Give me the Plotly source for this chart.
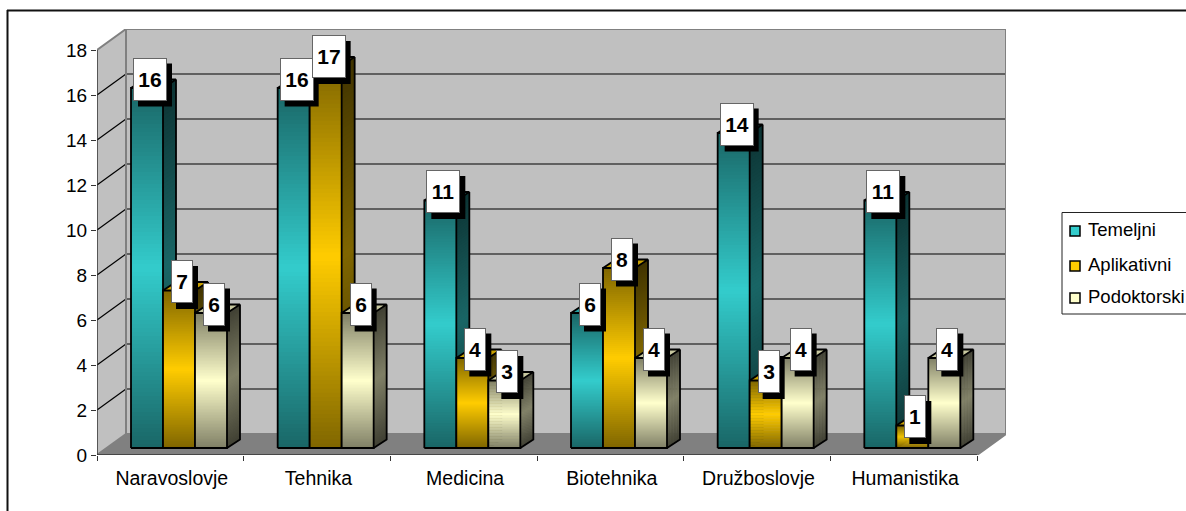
import plotly.graph_objects as go

categories = ["Naravoslovje", "Tehnika", "Medicina", "Biotehnika", "Družboslovje", "Humanistika"]
temeljni = [16, 16, 11, 6, 14, 11]
aplikativni = [7, 17, 4, 8, 3, 1]
podoktorski = [6, 6, 3, 4, 4, 4]
series_names = ["Temeljni", "Aplikativni", "Podoktorski"]
series_values = [temeljni, aplikativni, podoktorski]
series_rgb = [(51, 204, 204), (255, 204, 0), (255, 255, 204)]
y_ticks = list(range(0, 19, 2))

W, H = 1186, 511
L, T, R_PX, B_PX = 97, 29, 1006, 455
PX_X = 146.67
PX_Y = 22.5
DX, DY = 29 / PX_X, 21 / PX_Y            # depth of floor
BAR_W = 32 / PX_X
BAR_X0 = 34 / PX_X                        # first bar left edge inside a category
BASE = 7 / PX_Y                           # front-bottom of the bars above the axis zero
BD, BH = 13 / PX_X, 8.5 / PX_Y            # depth of the bars
N = 90
FONT = "Liberation Sans"


def mix(rgb, f):
    return "rgb(%d,%d,%d)" % tuple(round(c * f) for c in rgb)


def shade(t):
    # dark at both ends of the bar, full colour at mid height
    return 0.5 + 0.5 * (1 - abs(2 * t - 1))


def polys(items):
    xs, ys = [], []
    for p in items:
        xs += [q[0] for q in p] + [p[0][0], None]
        ys += [q[1] for q in p] + [p[0][1], None]
    return xs, ys


fig = go.Figure()


def fill(items, color):
    xs, ys = polys(items)
    fig.add_trace(go.Scatter(x=xs, y=ys, mode="lines", fill="toself", fillcolor=color,
                             line=dict(width=0, simplify=False), showlegend=False, hoverinfo="skip"))


def stroke(items, color, width, closed=True):
    xs, ys = [], []
    for p in items:
        pts = list(p) + ([p[0]] if closed else [])
        xs += [q[0] for q in pts] + [None]
        ys += [q[1] for q in pts] + [None]
    fig.add_trace(go.Scatter(x=xs, y=ys, mode="lines", line=dict(color=color, width=width, simplify=False),
                             showlegend=False, hoverinfo="skip", cliponaxis=False))


# real bars (front faces), painted over by the shaded faces below
n_cat = len(categories)
for s, (name, vals, rgb) in enumerate(zip(series_names, series_values, series_rgb)):
    fig.add_trace(go.Bar(x=[i + BAR_X0 + (s + 0.5) * BAR_W for i in range(n_cat)], y=vals,
                         base=[BASE] * n_cat, width=BAR_W, name=name,
                         marker=dict(color=mix(rgb, 1), line=dict(color="black", width=1)),
                         showlegend=False, hoverinfo="skip"))

# walls and floor
fill([[(DX, DY), (6 + DX, DY), (6 + DX, 18 + DY), (DX, 18 + DY)]], "#C0C0C0")
fill([[(0, 0), (DX, DY), (DX, 18 + DY), (0, 18)]], "#C0C0C0")
fill([[(0, 0), (6, 0), (6 + DX, DY), (DX, DY)]], "#808080")
inner = [v for v in y_ticks if 0 < v < 18]
stroke([[(DX, v + DY), (6 + DX, v + DY)] for v in inner], "#000000", 1.2, closed=False)
stroke([[(0, v), (DX, v + DY)] for v in inner], "#000000", 1.2, closed=False)
stroke([[(0, 18), (DX, 18 + DY), (6 + DX, 18 + DY), (6 + DX, DY), (6, 0)],
        [(DX, DY), (DX, 18 + DY)],
        [(DX, DY), (6 + DX, DY)], [(0, 0), (DX, DY)]], "#808080", 2, closed=False)

# shaded 3D bars, series by series so later ones hide the side of earlier ones
for s, (vals, rgb) in enumerate(zip(series_values, series_rgb)):
    lefts = [i + BAR_X0 + s * BAR_W for i in range(n_cat)]
    for k in range(N):
        lo, hi = k / N, min(1, (k + 1.6) / N)
        f = shade((k + 0.5) / N)
        fill([[(x + BAR_W, BASE + v * lo), (x + BAR_W + BD, BASE + BH + v * lo),
               (x + BAR_W + BD, BASE + BH + v * hi), (x + BAR_W, BASE + v * hi)]
              for x, v in zip(lefts, vals)], mix(rgb, f * 0.5))
    for k in range(N):
        lo, hi = k / N, min(1, (k + 1.6) / N)
        f = shade((k + 0.5) / N)
        fill([[(x, BASE + v * lo), (x + BAR_W, BASE + v * lo),
               (x + BAR_W, BASE + v * hi), (x, BASE + v * hi)]
              for x, v in zip(lefts, vals)], mix(rgb, f))
    fill([[(x, BASE + v), (x + BAR_W, BASE + v), (x + BAR_W + BD, BASE + v + BH), (x + BD, BASE + v + BH)]
          for x, v in zip(lefts, vals)], mix(rgb, 0.78))
    outlines = []
    for x, v in zip(lefts, vals):
        outlines.append([(x, BASE), (x + BAR_W, BASE), (x + BAR_W, BASE + v), (x, BASE + v), (x, BASE)])
        outlines.append([(x, BASE + v), (x + BD, BASE + v + BH), (x + BAR_W + BD, BASE + v + BH),
                         (x + BAR_W, BASE + v)])
        outlines.append([(x + BAR_W + BD, BASE + v + BH), (x + BAR_W + BD, BASE + BH), (x + BAR_W, BASE)])
    stroke(outlines, "black", 1.8, closed=False)

# axis lines on top of the floor edge
stroke([[(0, 0), (0, 18)], [(0, 0), (6, 0)]], "#333333", 1.5, closed=False)

# data labels: white boxes with a hard black shadow
shapes, annotations = [], []
for s, vals in enumerate(series_values):
    for i, v in enumerate(vals):
        cx = i + BAR_X0 + (s + 0.5) * BAR_W
        cy = BASE + v
        half = 17 if v >= 10 else 11
        shapes.append(dict(type="rect", xref="x", yref="y", xsizemode="pixel", ysizemode="pixel",
                           xanchor=cx, yanchor=cy, x0=3 - half + 5, x1=3 + half + 5,
                           y0=9 - 21.5 - 6, y1=9 + 21.5 - 6,
                           fillcolor="black", line=dict(width=0), layer="above"))
        annotations.append(dict(x=cx, y=cy, xref="x", yref="y", text="<b>%d</b>" % v, showarrow=False,
                                xshift=3, yshift=9, width=2 * half - 2, height=41, borderpad=0,
                                bgcolor="white", bordercolor="#666666", borderwidth=1,
                                font=dict(family=FONT, size=21, color="black"), align="center",
                                valign="middle"))


def px(x):
    return (x - L) / (R_PX - L)


def py(y):
    return (B_PX - y) / (B_PX - T)


# outer frame (only top and left are inside the picture)
shapes.append(dict(type="line", xref="paper", yref="paper", x0=px(7), x1=px(W), y0=py(10.5), y1=py(10.5),
                   line=dict(color="#111111", width=2)))
shapes.append(dict(type="line", xref="paper", yref="paper", x0=px(7.5), x1=px(7.5), y0=py(10), y1=py(H),
                   line=dict(color="#111111", width=2)))

# legend
shapes.append(dict(type="rect", xref="paper", yref="paper", x0=px(1062), x1=px(W + 4), y0=py(212.5), y1=py(314),
                   line=dict(color="#222222", width=1), fillcolor="white"))
legend_rows = [231, 266, 298]
for name, rgb, yc in zip(series_names, series_rgb, legend_rows):
    shapes.append(dict(type="rect", xref="paper", yref="paper", x0=px(1070), x1=px(1080), y0=py(yc - 5), y1=py(yc + 5),
                       fillcolor=mix(rgb, 1), line=dict(color="black", width=1.5)))
    annotations.append(dict(x=px(1086), y=py(yc - 2), xref="paper", yref="paper", text=name, showarrow=False,
                            xanchor="left", yanchor="middle", font=dict(family=FONT, size=18.5, color="black")))

fig.update_layout(
    width=W, height=H, autosize=False, barmode="overlay", showlegend=False,
    margin=dict(l=L, r=W - R_PX, t=T, b=H - B_PX, pad=0),
    paper_bgcolor="white", plot_bgcolor="white",
    font=dict(family=FONT, size=18, color="black"),
    shapes=shapes, annotations=annotations,
    xaxis=dict(range=[0, 6 + DX], tickmode="array", tickvals=[i + 0.51 for i in range(n_cat)], ticktext=categories,
               showgrid=False, zeroline=False, showline=False, ticks="outside", ticklen=6,
               tickcolor="rgba(0,0,0,0)", tickfont=dict(family=FONT, size=19.5, color="black"),
               minor=dict(tickmode="array", tickvals=list(range(n_cat + 1)), ticks="outside", ticklen=5,
                          tickcolor="#333333", tickwidth=1, showgrid=False)),
    yaxis=dict(range=[0, 18 + DY], tickmode="array", tickvals=y_ticks, showgrid=False, zeroline=False, showline=False,
               ticks="outside", ticklen=5, tickcolor="#333333", tickwidth=1,
               tickfont=dict(family=FONT, size=19, color="black")),
)

fig.write_html("out.html", config=dict(displayModeBar=False),
               post_script="document.body.style.margin='0';document.body.style.overflow='hidden';window.dispatchEvent(new Event('resize'));")
